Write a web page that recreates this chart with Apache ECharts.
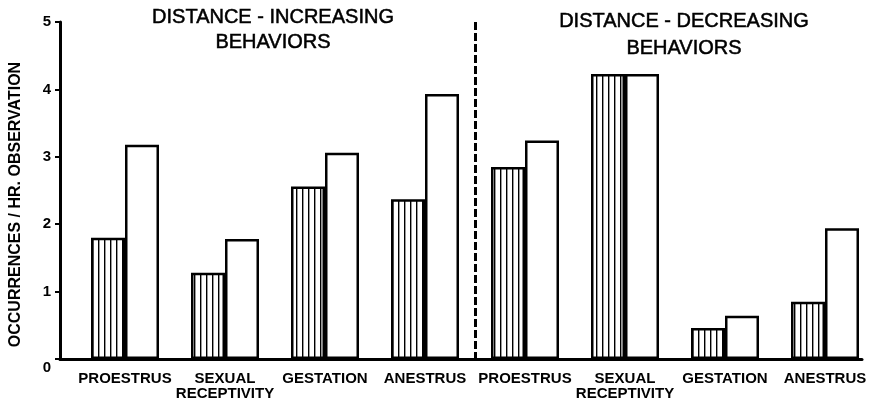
<!DOCTYPE html>
<html>
<head>
<meta charset="utf-8">
<script src="https://cdn.jsdelivr.net/npm/echarts@6/dist/echarts.min.js"></script>
<style>
  html, body { margin: 0; padding: 0; background: #fff; }
  #chart { width: 877px; height: 403px; }
</style>
</head>
<body>
<div id="chart"></div>
<script>
// stages, repeated for both behaviour groups
const categories = ['PROESTRUS', 'SEXUAL\nRECEPTIVITY', 'GESTATION', 'ANESTRUS',
                    'PROESTRUS', 'SEXUAL\nRECEPTIVITY', 'GESTATION', 'ANESTRUS'];
// striped bars
const stripedValues = [1.80, 1.28, 2.56, 2.37, 2.85, 4.23, 0.46, 0.85];
// open bars
const openValues = [3.18, 1.78, 3.06, 3.93, 3.24, 4.23, 0.64, 1.94];
const yTicks = [0, 1, 2, 3, 4, 5];
// first category of the second group (dashed divider goes before it)
const splitIndex = 4;

const FONT = 'Liberation Sans';

// vertical stripe pattern
let stripe = document.createElement('canvas');
stripe.width = 6;
stripe.height = 6;
let ctx = stripe.getContext('2d');
ctx.fillStyle = '#fff';
ctx.fillRect(0, 0, 6, 6);
ctx.fillStyle = '#000';
ctx.fillRect(2, 0, 1.4, 6);

let chart = echarts.init(document.getElementById('chart'), null, { renderer: 'canvas' });
let option = {
  animation: false,
  backgroundColor: '#fff',
  grid: [
    { left: 75, right: 2, top: 22, bottom: 44 },   // bars
    { left: 60, right: 15, top: 22, bottom: 44 }   // frame
  ],
  graphic: [
    {
      type: 'text', x: 273, y: 5,
      style: {
        text: 'DISTANCE - INCREASING\nBEHAVIORS',
        textAlign: 'center', fill: '#000', stroke: '#000', lineWidth: 0.5,
        font: '20px "' + FONT + '"', lineHeight: 25
      }
    },
    {
      type: 'text', x: 684, y: 8,
      style: {
        text: 'DISTANCE - DECREASING\nBEHAVIORS',
        textAlign: 'center', fill: '#000', stroke: '#000', lineWidth: 0.5,
        font: '20px "' + FONT + '"', lineHeight: 27
      }
    }
  ],
  xAxis: [
    {
      type: 'category', gridIndex: 0, data: categories,
      axisLine: { show: false },
      axisTick: { show: false },
      axisLabel: {
        interval: 0, hideOverlap: false, margin: 12,
        color: '#000', fontFamily: FONT, fontWeight: 'bold', fontSize: 15, lineHeight: 15
      },
      splitLine: {
        show: true,
        showMinLine: false,
        showMaxLine: false,
        interval: function (i) { return i === 0 || i === splitIndex; },
        lineStyle: { color: '#000', width: 3, type: [8, 3] }
      }
    },
    {
      type: 'value', gridIndex: 1, min: 0, max: 1,
      axisLine: { show: true, lineStyle: { color: '#000', width: 3 } },
      axisTick: { show: false },
      axisLabel: { show: false },
      splitLine: { show: false }
    }
  ],
  yAxis: [
    { type: 'value', gridIndex: 0, min: 0, max: 5, show: false },
    {
      type: 'value', gridIndex: 1, min: yTicks[0], max: yTicks[yTicks.length - 1], interval: 1,
      name: 'OCCURRENCES / HR. OBSERVATION',
      nameLocation: 'middle', nameRotate: 90, nameGap: 36,
      nameTextStyle: { color: '#000', fontFamily: FONT, fontWeight: 'bold', fontSize: 16, padding: [0, 28, 0, 0] },
      axisLine: { show: true, lineStyle: { color: '#000', width: 3 } },
      axisTick: { show: true, inside: false, length: 5, lineStyle: { color: '#000', width: 2 } },
      axisLabel: {
        margin: 9, color: '#000', fontFamily: FONT, fontWeight: 'bold', fontSize: 15,
        formatter: function (v) { return v === 0 ? '{z|0}' : String(v); },
        rich: { z: { padding: [18, 0, 0, 0], fontFamily: FONT, fontWeight: 'bold', fontSize: 15, color: '#000' } }
      },
      splitLine: { show: false }
    }
  ],
  series: [
    {
      name: 'striped', type: 'bar', xAxisIndex: 0, yAxisIndex: 0,
      data: stripedValues, barWidth: 34, barGap: '0%',
      itemStyle: { color: { image: stripe, repeat: 'repeat' }, borderColor: '#000', borderWidth: 2.5 }
    },
    {
      name: 'open', type: 'bar', xAxisIndex: 0, yAxisIndex: 0,
      data: openValues, barWidth: 34, barGap: '0%',
      itemStyle: { color: '#fff', borderColor: '#000', borderWidth: 2.5 }
    }
  ]
};
chart.setOption(option);
</script>
</body>
</html>
